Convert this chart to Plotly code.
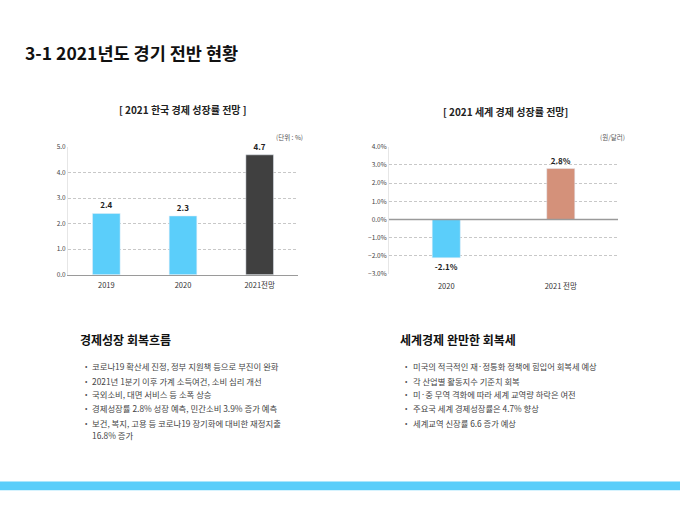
import plotly.graph_objects as go

FONT = "Noto Sans CJK KR"

# Korean growth outlook
kr_years = ["2019", "2020", "2021전망"]
kr_growth = [2.4, 2.3, 4.7]
kr_colors = ["#5BCEFA", "#5BCEFA", "#404040"]

# World growth outlook
world_years = ["2020", "2021 전망"]
world_growth = [-2.1, 2.8]
world_colors = ["#5BCEFA", "#D4917A"]

left_bullets = [
    "코로나19 확산세 진정, 정부 지원책 등으로 부진이 완화",
    "2021년 1분기 이후 가계 소득여건, 소비 심리 개선",
    "국외소비, 대면 서비스 등 소폭 상승",
    "경제성장률 2.8% 성장 예측, 민간소비 3.9% 증가 예측",
    "보건, 복지, 고용 등 코로나19 장기화에 대비한 재정지출<br>16.8% 증가",
]
right_bullets = [
    "미국의 적극적인 재·정통화 정책에 힘입어 회복세 예상",
    "각 산업별 활동지수 기준치 회복",
    "미·중 무역 격화에 따라 세계 교역량 하락은 여전",
    "주요국 세계 경제성장률은 4.7% 향상",
    "세계교역 신장률 6.6 증가 예상",
]

fig = go.Figure()

fig.add_trace(go.Bar(x=kr_years, y=kr_growth, marker_color=kr_colors, width=0.36,
                     text=[f"{v:.1f}" for v in kr_growth], textposition="outside",
                     textfont=dict(size=8, color="#222", family=FONT, weight="bold"),
                     cliponaxis=False, xaxis="x", yaxis="y", showlegend=False))
fig.add_trace(go.Bar(x=world_years, y=world_growth, marker_color=world_colors, width=0.245,
                     text=[f"{v:.1f}%" for v in world_growth], textposition="outside",
                     textfont=dict(size=8, color="#222", family=FONT, weight="bold"),
                     cliponaxis=False, xaxis="x2", yaxis="y2", showlegend=False))

W, H = 680, 510
axis_common = dict(tickfont=dict(size=6.5, color="#444", family=FONT), showgrid=True,
                   gridcolor="#c8c8c8", griddash="3px,2px", gridwidth=0.8, zeroline=False,
                   showline=True, linecolor="#e6e6e6", linewidth=1, ticks="", fixedrange=True)

fig.update_layout(
    width=W, height=H, margin=dict(l=0, r=0, t=0, b=0),
    paper_bgcolor="white", plot_bgcolor="white",
    font=dict(family=FONT),
    xaxis=dict(domain=[68 / W, 298 / W], anchor="y", showline=True, linecolor="#9a9a9a",
               linewidth=1.2, ticks="", ticklabelstandoff=3,
               tickfont=dict(size=7.5, color="#333", family=FONT)),
    yaxis=dict(domain=[1 - 274 / H, 1 - 144 / H], anchor="x", range=[0, 5], dtick=1,
               tickformat=".1f", **axis_common),
    xaxis2=dict(domain=[389 / W, 618 / W], anchor="y2", showline=False, ticks="",
                tickfont=dict(size=7.5, color="#333", family=FONT), ticklabelstandoff=6),
    yaxis2=dict(domain=[1 - 273.5 / H, 1 - 143.5 / H], anchor="x2", range=[-3, 4], dtick=1,
                tickformat=".1f", ticksuffix="%", **axis_common),
)

# zero line on the world chart
fig.add_shape(type="line", xref="x2 domain", yref="y2", x0=0, x1=1, y0=0, y1=0,
              line=dict(color="#9a9a9a", width=1.5))


def txt(x, y, s, size, color="#333", bold=False, xanchor="left"):
    fig.add_annotation(x=x / W, y=1 - y / H, xref="paper", yref="paper", text=s,
                       showarrow=False, xanchor=xanchor, yanchor="middle", align="left",
                       font=dict(size=size, color=color, family=FONT,
                                 weight="bold" if bold else "normal"))


txt(23, 47, "3-1 2021년도 경기 전반 현황", 17.5, "#111", True)
txt(183, 106, "[ 2021 한국 경제 성장률 전망 ]", 10, "#222", True, "center")
txt(505, 108, "[ 2021 세계 경제 성장률 전망]", 10, "#222", True, "center")
txt(305, 134, "(단위 : %)", 6.5, "#555", False, "right")
txt(627, 134, "(원/달러)", 6.5, "#555", False, "right")

txt(78, 340, "경제성장 회복흐름", 12, "#111", True)
txt(398, 340, "세계경제 완만한 회복세", 12, "#111", True)

line_y = [367, 382, 396, 410.5, 425]
for y, s in zip(line_y, left_bullets):
    txt(83, y, "•", 7, "#555")
    if "<br>" in s:
        a, b = s.split("<br>")
        txt(90, y, a, 8.4, "#444")
        txt(90, y + 12.5, b, 8.4, "#444")
    else:
        txt(90, y, s, 8.4, "#444")
for y, s in zip(line_y, right_bullets):
    txt(403, y, "•", 7, "#555")
    txt(411, y, s, 8.3, "#444")

# bottom band
fig.add_shape(type="rect", xref="paper", yref="paper", x0=0, x1=1,
              y0=1 - 494 / H, y1=1 - 485 / H, fillcolor="#5BCEFA", line_width=0, layer="above")

fig.write_html("out.html", config={"displayModeBar": False},
               post_script="document.body.style.margin='0';")
